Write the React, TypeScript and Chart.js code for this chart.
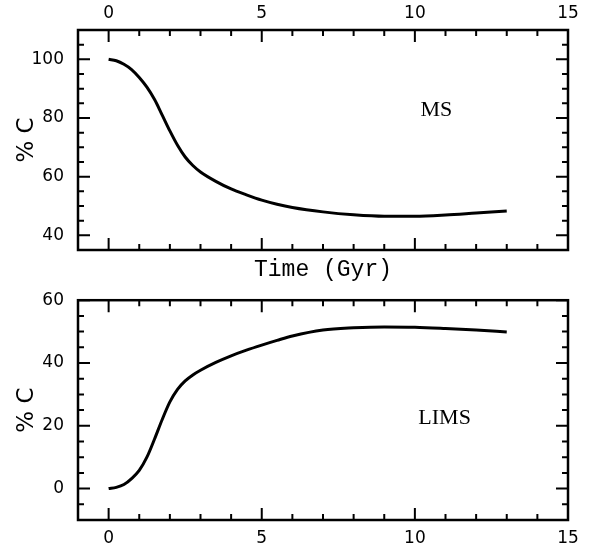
import React, { useEffect, useRef } from "react";
import { Chart, registerables } from "chart.js";

Chart.register(...registerables);

// ---- data ----
const msTime = [0, 0.25, 0.5, 0.75, 1.0, 1.25, 1.5, 1.75, 2.0, 2.25, 2.5, 2.75, 3.0, 3.5, 4.0, 4.5, 5.0, 5.5, 6.0, 7.0, 8.0, 9.0, 10.0, 11.0, 12.0, 13.0];
const msCarbon = [100, 99.5, 98.3, 96.5, 93.8, 90.5, 86.3, 81.0, 75.6, 70.7, 66.7, 63.8, 61.6, 58.4, 55.8, 53.8, 52.0, 50.6, 49.5, 48.0, 47.0, 46.5, 46.5, 46.9, 47.6, 48.3];

const limsTime = [0, 0.25, 0.5, 0.75, 1.0, 1.25, 1.5, 1.75, 2.0, 2.25, 2.5, 2.75, 3.0, 3.5, 4.0, 4.5, 5.0, 5.5, 6.0, 7.0, 8.0, 9.0, 10.0, 11.0, 12.0, 13.0];
const limsCarbon = [0, 0.4, 1.3, 3.2, 5.8, 10.0, 15.8, 22.0, 27.6, 31.6, 34.3, 36.2, 37.7, 40.2, 42.3, 44.1, 45.7, 47.2, 48.6, 50.5, 51.2, 51.5, 51.4, 51.0, 50.5, 49.9];

// ---- axes / ticks ----
const xRange = [-1, 15];
const xMajor = [0, 5, 10, 15];
const xMinor = [1, 2, 3, 4, 6, 7, 8, 9, 11, 12, 13, 14];

const msRange = [35, 110];
const msMajor = [40, 60, 80, 100];
const msMinor = [45, 50, 55, 65, 70, 75, 85, 90, 95, 105];

const limsRange = [-10, 60];
const limsMajor = [0, 20, 40, 60];
const limsMinor = [-5, 5, 10, 15, 25, 30, 35, 45, 50, 55];

const xTitle = "Time (Gyr)";
const yTitle = "% C";
const msLabel = { text: "MS", x: 10.7, y: 82.7 };
const limsLabel = { text: "LIMS", x: 10.97, y: 22.3 };

const TICK_FONT = { family: "'DejaVu Sans', sans-serif", size: 17 };
const YTITLE_FONT = { family: "'DejaVu Sans', sans-serif", size: 23, lineHeight: 1 };
const XTITLE_FONT = { family: "'Liberation Mono', monospace", size: 23, lineHeight: 1 };

function makeFramePlugin(cfg: {
  yMajor: number[];
  yMinor: number[];
  label: { text: string; x: number; y: number };
}) {
  return {
    id: "frameTicks",
    afterDatasetsDraw(chart: any) {
      const { ctx, chartArea: a } = chart;
      const xs = chart.scales.x;
      const ys = chart.scales.y;
      ctx.save();
      ctx.strokeStyle = "#000";
      ctx.lineWidth = 2;
      ctx.beginPath();
      const vTick = (v: number, len: number) => {
        const p = xs.getPixelForValue(v);
        ctx.moveTo(p, a.top);
        ctx.lineTo(p, a.top + len);
        ctx.moveTo(p, a.bottom);
        ctx.lineTo(p, a.bottom - len);
      };
      const hTick = (v: number, len: number) => {
        const p = ys.getPixelForValue(v);
        ctx.moveTo(a.left, p);
        ctx.lineTo(a.left + len, p);
        ctx.moveTo(a.right, p);
        ctx.lineTo(a.right - len, p);
      };
      xMajor.forEach((v) => vTick(v, 12));
      xMinor.forEach((v) => vTick(v, 6));
      cfg.yMajor.forEach((v) => hTick(v, 12));
      cfg.yMinor.forEach((v) => hTick(v, 6));
      ctx.stroke();
      ctx.lineWidth = 2.5;
      ctx.strokeRect(a.left, a.top, a.right - a.left, a.bottom - a.top);
      ctx.fillStyle = "#000";
      ctx.font = "22px 'Liberation Serif', serif";
      ctx.textAlign = "center";
      ctx.textBaseline = "middle";
      ctx.fillText(cfg.label.text, xs.getPixelForValue(cfg.label.x), ys.getPixelForValue(cfg.label.y));
      ctx.restore();
    },
  };
}

function buildChart(
  canvas: HTMLCanvasElement,
  times: number[],
  values: number[],
  yRange: number[],
  yMajor: number[],
  yMinor: number[],
  label: { text: string; x: number; y: number },
  top: boolean
) {
  const scales: any = {
    x: {
      type: "linear",
      position: top ? "top" : "bottom",
      min: xRange[0],
      max: xRange[1],
      grid: { display: false, drawTicks: false },
      border: { display: false },
      ticks: { font: TICK_FONT, color: "#000", padding: top ? 6 : 8, maxRotation: 0 },
      afterBuildTicks: (s: any) => {
        s.ticks = xMajor.map((v) => ({ value: v }));
      },
      afterFit: (s: any) => {
        s.height = top ? 30 : 32;
      },
    },
    y: {
      type: "linear",
      position: "left",
      min: yRange[0],
      max: yRange[1],
      grid: { display: false, drawTicks: false },
      border: { display: false },
      ticks: { font: TICK_FONT, color: "#000", padding: 14 },
      afterBuildTicks: (s: any) => {
        s.ticks = yMajor.map((v) => ({ value: v }));
      },
      title: {
        display: true,
        text: yTitle,
        font: YTITLE_FONT,
        color: "#000",
        padding: { top: 16, bottom: 0 },
      },
      afterFit: (s: any) => {
        s.width = 78;
      },
    },
  };
  if (top) {
    scales.xb = {
      type: "linear",
      position: "bottom",
      min: xRange[0],
      max: xRange[1],
      grid: { display: false, drawTicks: false },
      border: { display: false },
      ticks: { display: false },
      title: {
        display: true,
        text: xTitle,
        font: XTITLE_FONT,
        color: "#000",
        padding: { top: 0, bottom: 9 },
      },
      afterFit: (s: any) => {
        s.height = 40;
      },
    };
  }
  return new Chart(canvas, {
    type: "line",
    data: {
      datasets: [
        {
          data: times.map((t, i) => ({ x: t, y: values[i] })),
          borderColor: "#000",
          borderWidth: 3,
          pointRadius: 0,
          fill: false,
          cubicInterpolationMode: "monotone",
        },
      ],
    },
    options: {
      responsive: false,
      animation: false,
      devicePixelRatio: 1,
      events: [],
      layout: { padding: { left: 0, right: 22, top: top ? 0 : 24, bottom: 0 } },
      plugins: { legend: { display: false }, tooltip: { enabled: false } },
      scales,
    } as any,
    plugins: [makeFramePlugin({ yMajor, yMinor, label })],
  });
}

export default function App() {
  const topRef = useRef<HTMLCanvasElement>(null);
  const botRef = useRef<HTMLCanvasElement>(null);

  useEffect(() => {
    const c1 = buildChart(topRef.current!, msTime, msCarbon, msRange, msMajor, msMinor, msLabel, true);
    const c2 = buildChart(botRef.current!, limsTime, limsCarbon, limsRange, limsMajor, limsMinor, limsLabel, false);
    return () => {
      c1.destroy();
      c2.destroy();
    };
  }, []);

  return (
    <div style={{ position: "absolute", left: 0, top: 0, width: 590, height: 552, background: "#fff" }}>
      <canvas ref={topRef} width={590} height={290} style={{ position: "absolute", left: 0, top: 0, display: "block" }} />
      <canvas ref={botRef} width={590} height={276} style={{ position: "absolute", left: 0, top: 276, display: "block" }} />
    </div>
  );
}
